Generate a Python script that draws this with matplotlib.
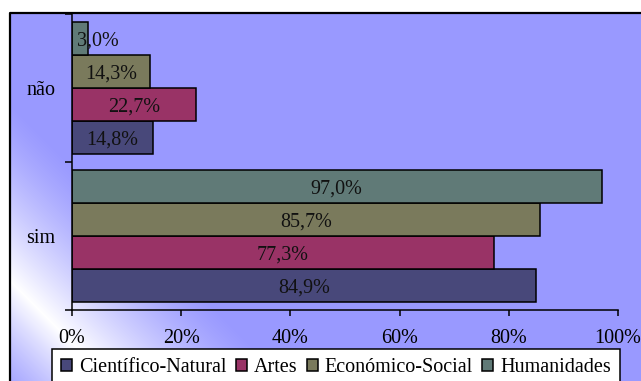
import numpy as np
import matplotlib.pyplot as plt
from matplotlib.patches import Patch

plt.rcParams['font.family'] = ['Liberation Serif', 'DejaVu Serif']

# answers per area of study
categories = ['sim', 'não']
series_names = ['Científico-Natural', 'Artes', 'Económico-Social', 'Humanidades']
cientifico = [84.9, 14.8]
artes = [77.3, 22.7]
economico = [85.7, 14.3]
humanidades = [97.0, 3.0]
series_values = [cientifico, artes, economico, humanidades]
colors = ['#48487A', '#993366', '#7A7A5C', '#607A77']
xticks = [0, 20, 40, 60, 80, 100]

FS = 14.5
W, H = 641, 381
fig = plt.figure(figsize=(W / 100, H / 100), dpi=100)

# chart area background: lavender with a white diagonal glow in the lower-left
bg = fig.add_axes([0, 0, 1, 1])
yy, xx = np.mgrid[0:H, 0:W]
s = (xx - 10) + (H - yy)
d = s - 100
w = np.where(d < 0, 1 - np.abs(d) / 130.0, 1 - d / 180.0)
w = np.clip(w, 0, 1) ** 1.3
blue = np.array([0x99, 0x99, 0xFF]) / 255.0
img = blue[None, None, :] * (1 - w[..., None]) + w[..., None]
outside = (xx < 10) | (yy < 13)
img[outside] = 1.0
bg.imshow(img, extent=(0, W, H, 0), aspect='auto', interpolation='bilinear')
bg.plot([10, 10, W + 5], [H + 5, 13, 13], color='black', lw=1.6)
bg.set_xlim(0, W)
bg.set_ylim(H, 0)
bg.axis('off')

ax = fig.add_axes([72 / W, (H - 310) / H, 546 / W, 296 / H])
ax.patch.set_alpha(0)

h = 0.222
ypos = np.arange(len(categories))
for i, (name, vals, c) in enumerate(zip(series_names, series_values, colors)):
    off = (i - 1.5) * h
    ax.barh(ypos + off, vals, height=h, color=c, edgecolor='black', linewidth=1.1)
    for y, v in zip(ypos, vals):
        ax.text(max(v / 2, 4.8), y + off, f'{v:.1f}%'.replace('.', ','),
                ha='center', va='center_baseline', fontsize=FS, color='#111111')

ax.set_xlim(0, 100)
ax.set_ylim(-0.5, 1.5)
ax.set_xticks(xticks)
ax.set_xticklabels([f'{t}%' for t in xticks], fontsize=FS)
ax.set_yticks([-0.5, 0.5, 1.5])
ax.set_yticklabels([])
ax.set_yticks(ypos, minor=True)
ax.set_yticklabels(categories, minor=True, fontsize=FS)
ax.tick_params(axis='y', which='minor', length=0, pad=12)
ax.tick_params(axis='y', which='major', length=5, width=1.1)
ax.tick_params(axis='x', length=4, width=1.1, pad=10)
for side in ['top', 'right']:
    ax.spines[side].set_visible(False)
for side in ['left', 'bottom']:
    ax.spines[side].set_linewidth(1.1)

handles = [Patch(facecolor=c, edgecolor='black', linewidth=1.1) for c in colors]
leg = fig.legend(handles, series_names, loc='upper left',
                 bbox_to_anchor=(52 / W, 1 - 349 / H), ncol=4, fontsize=FS,
                 frameon=True, fancybox=False, framealpha=1, edgecolor='black',
                 handlelength=0.55, handleheight=0.55, handletextpad=0.35,
                 columnspacing=0.45, borderpad=0.45, borderaxespad=0)
leg.get_frame().set_linewidth(1.1)

fig.savefig('out.png', dpi=100)
